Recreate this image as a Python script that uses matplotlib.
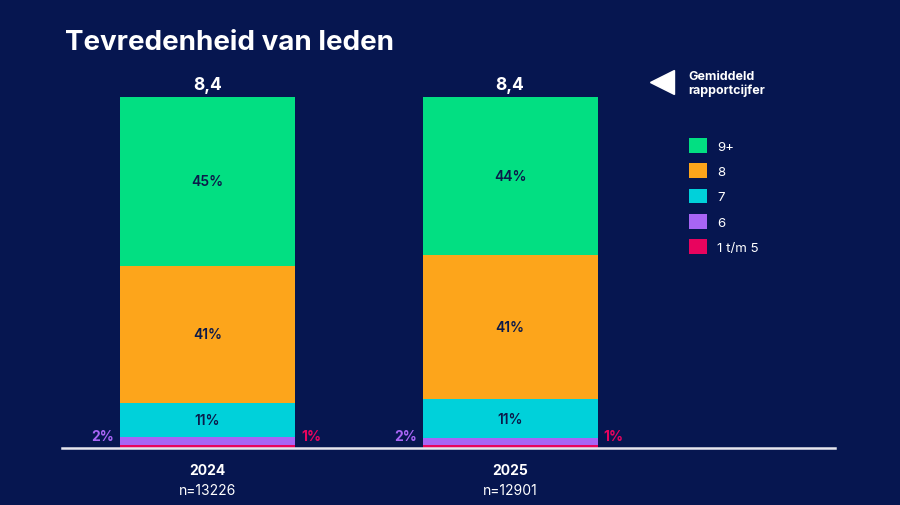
import matplotlib
matplotlib.use("Agg")
import matplotlib.pyplot as plt
from matplotlib.patches import Patch
from matplotlib.lines import Line2D
import numpy as np

plt.rcParams['font.family'] = ['Inter', 'DejaVu Sans']

BG = '#061650'
NAVY = '#0b1a4a'

years = ['2024', '2025']
n_resp = ['n=13226', 'n=12901']
gemiddeld = [8.4, 8.4]

categories = ['1 t/m 5', '6', '7', '8', '9+']
colors = ['#e8045e', '#a865f5', '#00d1da', '#fda51b', '#02df82']

# bar heights (%)
shares = {
    '1 t/m 5': [0.7, 0.7],
    '6': [2.3, 2.0],
    '7': [9.7, 11.1],
    '8': [39.2, 41.1],
    '9+': [48.1, 45.1],
}
# percentage labels as printed
labels = {
    '1 t/m 5': ['1%', '1%'],
    '6': ['2%', '2%'],
    '7': ['11%', '11%'],
    '8': ['41%', '41%'],
    '9+': ['45%', '44%'],
}

fig = plt.figure(figsize=(9, 5.06), dpi=100)
fig.patch.set_facecolor(BG)

W, H = 900, 506
left, right, bottom, top = 62, 835, 448.5, 98
ax = fig.add_axes([left / W, 1 - bottom / H, (right - left) / W, (bottom - top) / H])
ax.set_facecolor(BG)

x = np.arange(len(years))
width = 0.578
base = np.zeros(len(years))
for cat, col in zip(categories, colors):
    vals = np.array(shares[cat])
    ax.bar(x, vals, width, bottom=base, color=col, linewidth=0)
    for i in range(len(years)):
        txt = labels[cat][i]
        if cat == '6':
            ax.text(x[i] - width / 2 - 0.02, 3.2, txt, ha='right', va='center',
                    color='#a865f5', fontsize=10, fontweight='bold')
        elif cat == '1 t/m 5':
            ax.text(x[i] + width / 2 + 0.02, 3.2, txt, ha='left', va='center',
                    color='#e8045e', fontsize=10, fontweight='bold')
        else:
            ax.text(x[i], base[i] + vals[i] / 2, txt, ha='center', va='center',
                    color=NAVY, fontsize=10, fontweight='semibold')
    base += vals

for i in range(len(years)):
    ax.text(x[i], base[i] + 1.0, f'{gemiddeld[i]:.1f}'.replace('.', ','),
            ha='center', va='bottom', color='white', fontsize=12.5, fontweight='bold')

ax.set_xlim(-0.481, 2.074)
ax.set_ylim(0, 100)
ax.axhline(-0.2, color='#e6e6ee', linewidth=1.8, zorder=5, clip_on=False)
for s in ax.spines.values():
    s.set_visible(False)
ax.set_xticks(x)
ax.set_xticklabels([])
ax.tick_params(length=0)
ax.set_yticks([])
for i in range(len(years)):
    ax.text(x[i], -4.5, years[i], ha='center', va='top', color='white',
            fontsize=10, fontweight='bold')
    ax.text(x[i], -10.0, n_resp[i], ha='center', va='top', color='white',
            fontsize=10)

fig.text(65 / W, 1 - 43 / H, 'Tevredenheid van leden', color='white',
         fontsize=20, fontweight='bold', ha='left', va='center')

# mean marker legend
fig.add_artist(Line2D([662 / W], [1 - 83 / H], marker='<', markersize=17,
                      color='white', linestyle='none'))
fig.text(688 / W, 1 - 84 / H, 'Gemiddeld\nrapportcijfer', color='white',
         fontsize=9, fontweight='bold', ha='left', va='center', linespacing=1.2)

handles = [Patch(facecolor=c, edgecolor='none') for c in colors[::-1]]
leg = fig.legend(handles, categories[::-1], loc='upper left',
                 bbox_to_anchor=(677 / W, 1 - 127 / H), frameon=False,
                 fontsize=9.5, labelcolor='white', handlelength=1.35,
                 handleheight=1.35, labelspacing=0.8, handletextpad=0.8)

fig.savefig('out.png', dpi=100, facecolor=BG)
